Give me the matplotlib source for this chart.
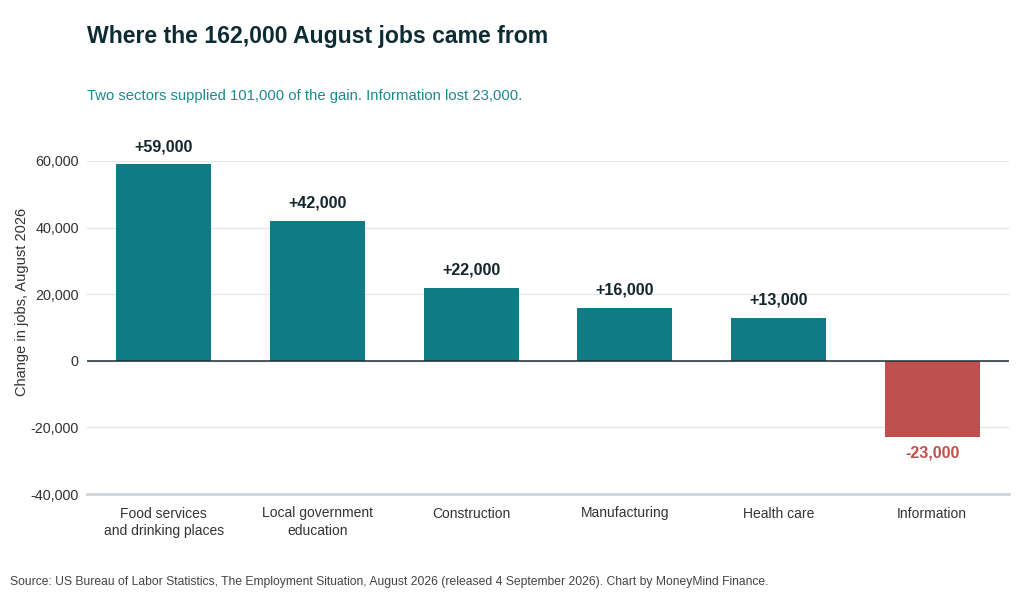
import matplotlib.pyplot as plt
from matplotlib.ticker import FuncFormatter

plt.rcParams['font.family'] = ['Liberation Sans', 'DejaVu Sans']

# Data
sectors = ['Food services\nand drinking places', 'Local government\neducation',
           'Construction', 'Manufacturing', 'Health care', 'Information']
changes = [59000, 42000, 22000, 16000, 13000, -23000]

teal = '#0f7b84'
red = '#c0504d'
colors = [teal if v >= 0 else red for v in changes]

fig = plt.figure(figsize=(10.24, 6), dpi=100)
ax = fig.add_axes([87 / 1024, 1 - 494 / 600, 922 / 1024, 333 / 600])

x = range(len(sectors))
ax.bar(x, changes, width=0.62, color=colors, zorder=3)

ax.set_xlim(-0.5, len(sectors) - 0.5)
ax.set_ylim(-40000, 60000)
ax.set_yticks([-40000, -20000, 0, 20000, 40000, 60000])
ax.yaxis.set_major_formatter(FuncFormatter(lambda v, p: f'{int(v):,}'))
ax.grid(axis='y', color='#e6e9ec', linewidth=1, zorder=0)
ax.axhline(0, color='#1f2d33', linewidth=1.1, zorder=4)

for s in ['top', 'right', 'left']:
    ax.spines[s].set_visible(False)
ax.spines['bottom'].set_color('#ccd6dd')
ax.spines['bottom'].set_linewidth(2)
ax.tick_params(axis='y', length=0, labelsize=10.4, colors='#333333', pad=6)
ax.tick_params(axis='x', length=0, labelsize=10, colors='#333333', pad=9)
ax.set_xticks(list(x))
ax.set_xticklabels(sectors, color='#333333', linespacing=1.3)

# Bar value labels
for i, v in enumerate(changes):
    if v >= 0:
        ax.text(i, v + 3000, f'+{v:,}', ha='center', va='bottom', fontsize=11.6,
                fontweight='bold', color='#14262c', clip_on=False, zorder=5)
    else:
        ax.text(i, v - 2400, f'{v:,}', ha='center', va='top', fontsize=11.6,
                fontweight='bold', color=red, clip_on=False, zorder=5)

fig.text(22 / 1024, 1 - 302 / 600, 'Change in jobs, August 2026', rotation=90,
         ha='center', va='center', fontsize=10.5, color='#333333')

fig.text(87 / 1024, 1 - 37 / 600, 'Where the 162,000 August jobs came from',
         ha='left', va='center', fontsize=16.6, fontweight='bold', color='#0d2b33')
fig.text(87 / 1024, 1 - 96 / 600,
         'Two sectors supplied 101,000 of the gain. Information lost 23,000.',
         ha='left', va='center', fontsize=10.7, color='#1a8a8f')
fig.text(10 / 1024, 1 - 582 / 600,
         'Source: US Bureau of Labor Statistics, The Employment Situation, August 2026 '
         '(released 4 September 2026). Chart by MoneyMind Finance.',
         ha='left', va='center', fontsize=8.7, color='#444444')

fig.savefig('out.png', dpi=100, facecolor='white')
